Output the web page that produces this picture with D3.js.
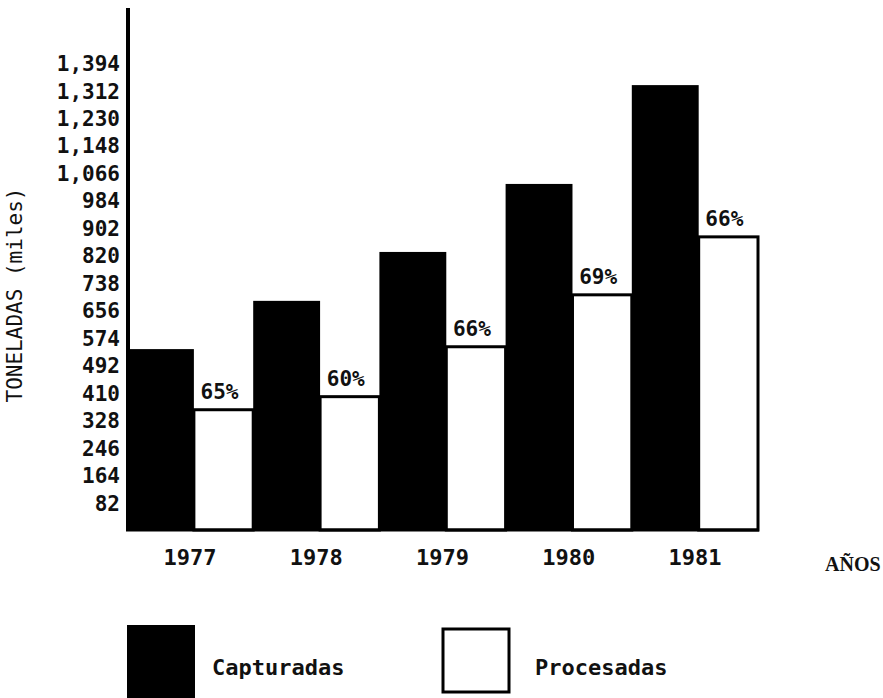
<!DOCTYPE html>
<html lang="es">
  <head>
    <meta charset="UTF-8" />
    <title>Toneladas capturadas y procesadas</title>
    <script src="https://d3js.org/d3.v7.min.js"></script>
    <style>
      body { margin: 0; background: #fff; }
      text { font-family: "DejaVu Sans Mono", monospace; fill: #111; }
    </style>
  </head>
  <body>
    <svg width="883" height="698"></svg>
    <script>
      // data (miles de toneladas)
      var years = ["1977", "1978", "1979", "1980", "1981"];
      var capturadas = [540, 684, 830, 1033, 1328];
      var procesadas = [359, 398, 547, 702, 875];
      var porcentajes = ["65%", "60%", "66%", "69%", "66%"];
      var yTicks = [82, 164, 246, 328, 410, 492, 574, 656, 738, 820, 902, 984, 1066, 1148, 1230, 1312, 1394];

      var svg = d3.select("svg");

      var y = d3.scaleLinear().domain([0, 1394]).range([530, 63]);
      var x = d3.scaleBand().domain(years).range([127, 758]).padding(0);
      var blackW = x.bandwidth() * 0.53;

      // bars
      var g = svg.append("g");
      g.selectAll("rect.cap")
        .data(years)
        .join("rect")
        .attr("class", "cap")
        .attr("x", (d) => x(d))
        .attr("y", (d, i) => y(capturadas[i]))
        .attr("width", blackW)
        .attr("height", (d, i) => y(0) - y(capturadas[i]))
        .style("fill", "#000");

      g.selectAll("rect.proc")
        .data(years)
        .join("rect")
        .attr("class", "proc")
        .attr("x", (d) => x(d) + blackW)
        .attr("y", (d, i) => y(procesadas[i]))
        .attr("width", x.bandwidth() - blackW)
        .attr("height", (d, i) => y(0) - y(procesadas[i]))
        .style("fill", "#fff")
        .style("stroke", "#000")
        .attr("stroke-width", 3);

      // percentage labels
      g.selectAll("text.pct")
        .data(years)
        .join("text")
        .attr("class", "pct")
        .attr("x", (d) => x(d) + blackW + (x.bandwidth() - blackW) / 2 - 4)
        .attr("y", (d, i) => y(procesadas[i]) - 11)
        .attr("text-anchor", "middle")
        .style("font-size", "21px")
        .style("font-weight", "bold")
        .text((d, i) => porcentajes[i]);

      // axis lines
      svg.append("line")
        .attr("x1", 128).attr("x2", 128)
        .attr("y1", y(1558)).attr("y2", y(0) + 1)
        .style("stroke", "#000").attr("stroke-width", 4);
      svg.append("line")
        .attr("x1", 126).attr("x2", 759)
        .attr("y1", y(0)).attr("y2", y(0))
        .style("stroke", "#000").attr("stroke-width", 3);

      // y tick labels
      var yAxis = d3.axisLeft(y).tickValues(yTicks).tickSize(0).tickPadding(0)
        .tickFormat(d3.format(","));
      var ya = svg.append("g").attr("transform", "translate(120,0)").call(yAxis);
      ya.select(".domain").remove();
      ya.selectAll("text")
        .style("font-family", "'DejaVu Sans Mono', monospace")
        .style("font-size", "21px")
        .style("font-weight", "bold")
        .attr("dy", "0.36em");

      // x labels
      var xAxis = d3.axisBottom(x).tickSize(0).tickPadding(0);
      var xa = svg.append("g").attr("transform", "translate(0,565)").call(xAxis);
      xa.select(".domain").remove();
      xa.selectAll("text")
        .style("font-family", "'DejaVu Sans Mono', monospace")
        .style("font-size", "22px")
        .style("font-weight", "bold")
        .attr("dy", 0);

      svg.append("text")
        .attr("x", 825).attr("y", 571)
        .style("font-family", "'Liberation Serif', serif")
        .style("font-size", "20px")
        .style("font-weight", "bold")
        .text("AÑOS");

      // y title
      svg.append("text")
        .attr("transform", "translate(22,295) rotate(-90)")
        .attr("text-anchor", "middle")
        .style("font-size", "21px")
        .text("TONELADAS (miles)");

      // legend
      svg.append("rect")
        .attr("x", 127).attr("y", 625).attr("width", 68).attr("height", 80)
        .style("fill", "#000");
      svg.append("text")
        .attr("x", 212).attr("y", 675)
        .style("font-size", "22px")
        .style("font-weight", 600)
        .text("Capturadas");
      svg.append("rect")
        .attr("x", 443).attr("y", 629).attr("width", 66).attr("height", 63)
        .style("fill", "#fff").style("stroke", "#000").attr("stroke-width", 3);
      svg.append("text")
        .attr("x", 535).attr("y", 675)
        .style("font-size", "22px")
        .style("font-weight", 600)
        .text("Procesadas");
    </script>
  </body>
</html>
